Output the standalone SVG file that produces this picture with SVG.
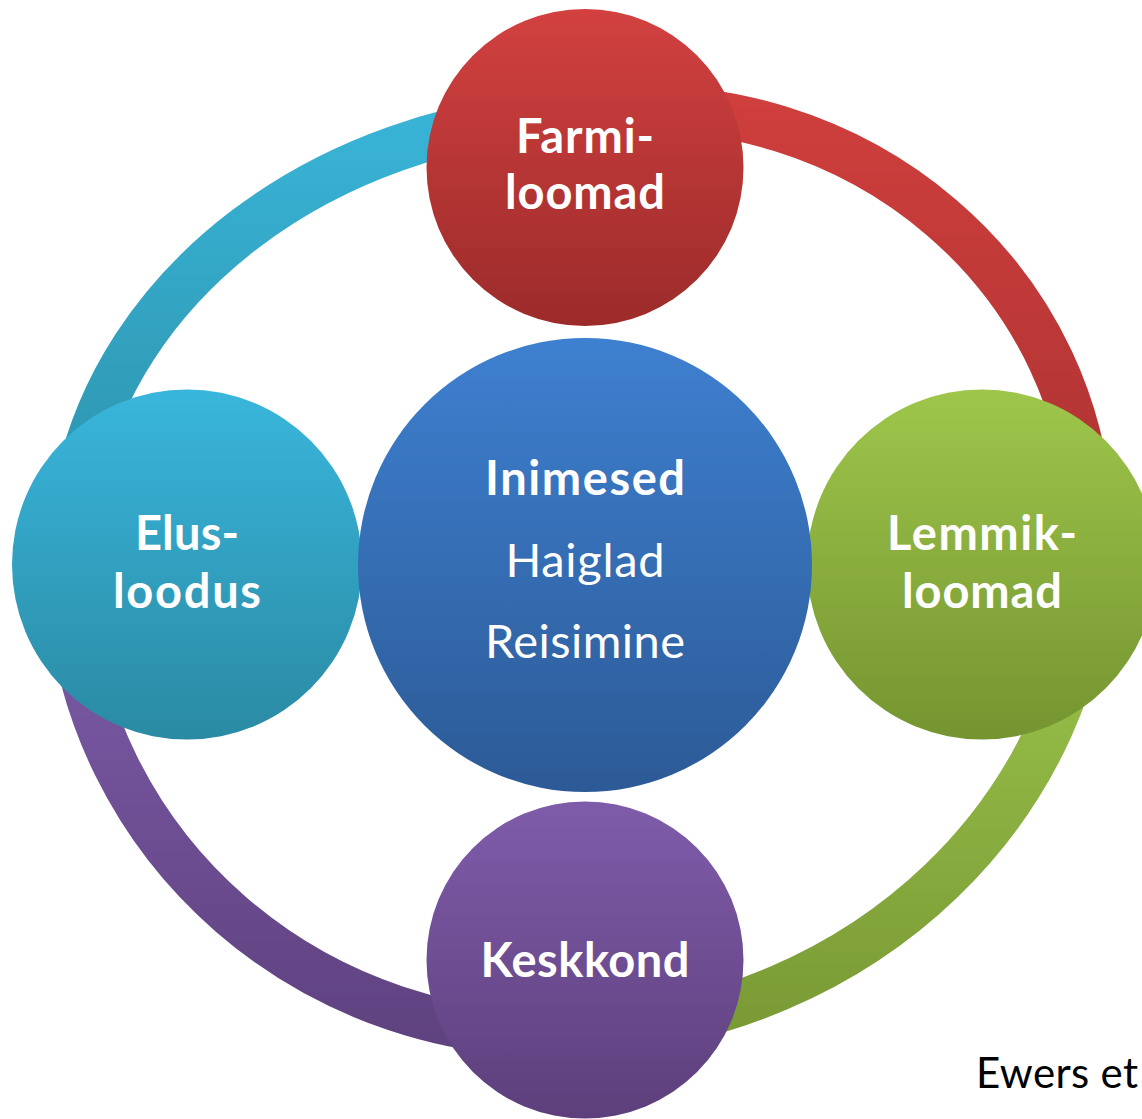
<svg xmlns="http://www.w3.org/2000/svg" width="1142" height="1119" viewBox="0 0 1142 1119">
<defs>
<linearGradient id="gRed" x1="0" y1="0" x2="0" y2="1"><stop offset="0" stop-color="#d24140"/><stop offset="1" stop-color="#9b2b2a"/></linearGradient>
<linearGradient id="gCyan" x1="0" y1="0" x2="0" y2="1"><stop offset="0" stop-color="#39b6dc"/><stop offset="1" stop-color="#2a8aa3"/></linearGradient>
<linearGradient id="gGreen" x1="0" y1="0" x2="0" y2="1"><stop offset="0" stop-color="#9ec64b"/><stop offset="1" stop-color="#759430"/></linearGradient>
<linearGradient id="gPurple" x1="0" y1="0" x2="0" y2="1"><stop offset="0" stop-color="#7f5caa"/><stop offset="1" stop-color="#5d3f7b"/></linearGradient>
<linearGradient id="gBlue" x1="0" y1="0" x2="0" y2="1"><stop offset="0" stop-color="#3e80d0"/><stop offset="1" stop-color="#2c5a96"/></linearGradient>
<linearGradient id="sCyan" gradientUnits="userSpaceOnUse" x1="0" y1="100" x2="0" y2="480"><stop offset="0" stop-color="#39b5d8"/><stop offset="1" stop-color="#2e96b0"/></linearGradient>
<linearGradient id="sRed" gradientUnits="userSpaceOnUse" x1="0" y1="90" x2="0" y2="520"><stop offset="0" stop-color="#cf3f3d"/><stop offset="1" stop-color="#ad3332"/></linearGradient>
<linearGradient id="sGreen" gradientUnits="userSpaceOnUse" x1="0" y1="600" x2="0" y2="1050"><stop offset="0" stop-color="#9bc44b"/><stop offset="1" stop-color="#789834"/></linearGradient>
<linearGradient id="sPurple" gradientUnits="userSpaceOnUse" x1="0" y1="600" x2="0" y2="1055"><stop offset="0" stop-color="#7c5ba8"/><stop offset="1" stop-color="#5e417e"/></linearGradient>
</defs>
<style>
.arc{fill:none;stroke-width:46}
.t{font-family:Lato,"Liberation Sans",sans-serif;font-size:47px;fill:#ffffff;text-anchor:middle}
.b{font-weight:bold}
.r{font-weight:normal}
.cite{font-family:Lato,"Liberation Sans",sans-serif;font-size:42px;fill:#000000}
</style>
<g id="connectors">
<path class="arc" stroke="url(#sCyan)" d="M 78.6 480 A 535 447 0 0 1 560 114.6"/>
<path class="arc" stroke="url(#sRed)" d="M 610 109.1 A 448 427 0 0 1 1089.7 520"/>
<path class="arc" stroke="url(#sGreen)" d="M 1091.3 560 A 539 499 0 0 1 600 1032"/>
<path class="arc" stroke="url(#sPurple)" d="M 570 1033.7 A 485 474 0 0 1 69.7 600"/>
</g>
<g id="node-farmiloomad">
<circle cx="585" cy="167.5" r="158.5" fill="url(#gRed)"/>
<text class="t b" x="585" y="153" textLength="138">Farmi-</text>
<text class="t b" x="585" y="209" textLength="160">loomad</text>
</g>
<g id="node-elusloodus">
<circle cx="187" cy="564.5" r="175" fill="url(#gCyan)"/>
<text class="t b" x="187" y="550" textLength="104">Elus-</text>
<text class="t b" x="187" y="608" textLength="148">loodus</text>
</g>
<g id="node-lemmikloomad">
<circle cx="982" cy="564.5" r="175" fill="url(#gGreen)"/>
<text class="t b" x="982" y="550" textLength="190">Lemmik-</text>
<text class="t b" x="982" y="608" textLength="160">loomad</text>
</g>
<g id="node-keskkond">
<circle cx="585" cy="960" r="158.5" fill="url(#gPurple)"/>
<text class="t b" x="585" y="977" textLength="209">Keskkond</text>
</g>
<g id="node-inimesed">
<circle cx="585" cy="565" r="227" fill="url(#gBlue)"/>
<text class="t b" x="585" y="495" textLength="200">Inimesed</text>
<text class="t r" x="585" y="577" textLength="159">Haiglad</text>
<text class="t r" x="585" y="658" textLength="200">Reisimine</text>
</g>
<g id="citation">
<text class="cite" x="976" y="1088" textLength="162">Ewers et</text>
</g>
</svg>
